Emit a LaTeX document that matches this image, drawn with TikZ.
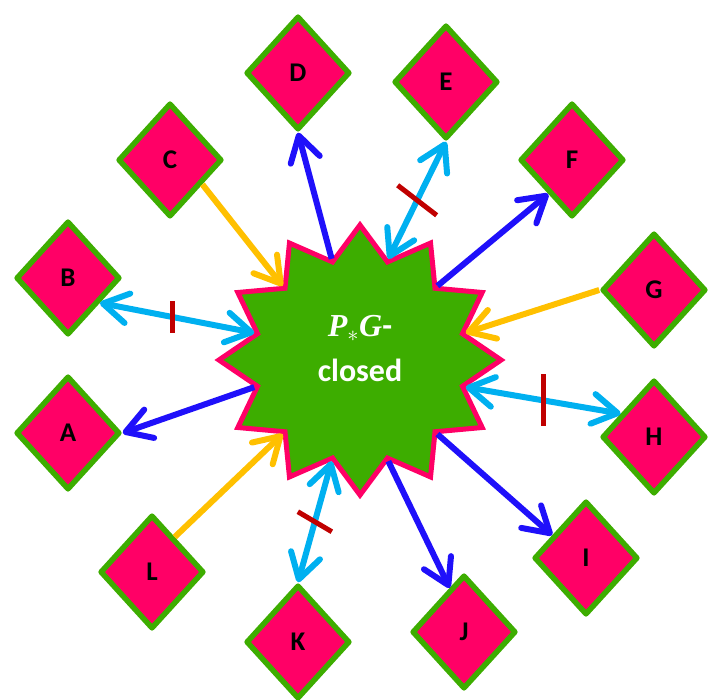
\RequirePackage{fix-cm}
\documentclass[tikz,border=0pt]{standalone}
\usepackage{fontspec}
\setmainfont{Carlito}
\newfontfamily\pgsfont{Liberation Serif}
\usepackage{tikz}
\usetikzlibrary{shapes.geometric,arrows.meta}
\definecolor{rose}{HTML}{FF0066}
\definecolor{leaf}{HTML}{3DAD00}
\definecolor{royal}{HTML}{1F10FA}
\definecolor{sky}{HTML}{00B0F0}
\definecolor{amber}{HTML}{FFC000}
\definecolor{maroon}{HTML}{C00000}

\begin{document}
\begin{tikzpicture}[x=1pt,y=-1pt,
  box/.style={diamond,draw=leaf,fill=rose,line width=5.5pt,line join=round,inner sep=0pt,
    minimum width=104pt,minimum height=114pt,text=black,font=\fontsize{27}{27}\selectfont\bfseries},
  barb/.style={line width=6pt,arrows={-{Straight Barb[length=25pt,width=30pt,round]}}},
  twobarb/.style={line width=6pt,arrows={{Straight Barb[length=25pt,width=30pt,round]}-{Straight Barb[length=25pt,width=30pt,round]}}},
  tickmark/.style={maroon,line width=5pt}]
\useasboundingbox (0,0) rectangle (709,700);
\node[star,star points=12,star point ratio=1.33,minimum size=270pt,inner sep=0pt,fill=leaf,draw=rose,line width=5pt,xscale=1.045,transform shape] (hub) at (360,360) {};
\node[white,align=center,font=\fontsize{32}{45}\selectfont\bfseries] (name) at (360,349) {{\pgsfont\bfseries\itshape P}$_{*}${\pgsfont\bfseries\itshape G}-\\closed};
\node[box] (A) at (68,433) {A};
\node[box] (B) at (68,278) {B};
\node[box] (C) at (170,160) {C};
\node[box] (D) at (298,73) {D};
\node[box] (E) at (446,82) {E};
\node[box] (F) at (572,160) {F};
\node[box] (G) at (654,290) {G};
\node[box] (H) at (654,437) {H};
\node[box] (I) at (586,558) {I};
\node[box] (J) at (464,632) {J};
\node[box] (K) at (298,642) {K};
\node[box] (L) at (152,572) {L};
% out of the hub
\draw[barb,royal] (hub.inner point 4) -- (A.east);
\draw[barb,royal] (hub.inner point 1) -- (D.south);
\draw[barb,royal] (hub.inner point 11) -- (F.235);
\draw[barb,royal] (hub.inner point 8) -- (I.146);
\draw[barb,royal] (hub.inner point 7) -- (J.108);
% into the hub
\draw[barb,amber] (C.-37) -- (hub.inner point 2);
\draw[barb,amber] (G.west) -- (hub.inner point 10);
\draw[barb,amber] (L.57) -- (hub.inner point 5);
% both ways, crossed
\draw[twobarb,sky] (hub.inner point 3) -- coordinate[pos=.53] (tb) (B.-38);
\draw[twobarb,sky] (hub.inner point 12) -- coordinate[pos=.5] (te) (E.south);
\draw[twobarb,sky] (hub.inner point 9) -- coordinate[pos=.5] (th) (H.145);
\draw[twobarb,sky] (hub.inner point 6) -- coordinate[pos=.5] (tk) (K.north);
\draw[tickmark] ([yshift=16pt]tb) -- ([yshift=-16pt]tb);
\draw[tickmark] ([shift={(-19.5,-15)}]te) -- ([shift={(19.5,15)}]te);
\draw[tickmark] ([yshift=26pt]th) -- ([yshift=-26pt]th);
\draw[tickmark] ([shift={(-17,-10)}]tk) -- ([shift={(17,10)}]tk);
\end{tikzpicture}
\end{document}
